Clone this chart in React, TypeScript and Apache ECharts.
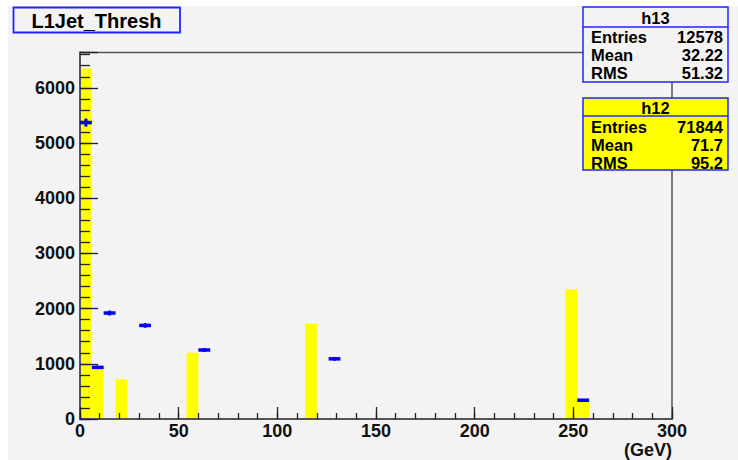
import React, { useEffect, useRef } from 'react';
import * as echarts from 'echarts';

// ---- data ----
const BIN_WIDTH = 6; // GeV
const h12BinStarts = [0, 6, 18, 54, 114, 246, 252];
const h12Values = [6350, 900, 720, 1200, 1720, 2350, 310];
const h13BinStarts = [0, 6, 12, 30, 60, 126, 252];
const h13Values = [5370, 935, 1920, 1695, 1250, 1090, 340];
const h13Errors = [73, 31, 44, 41, 35, 33, 18];

const X_MIN = 0;
const X_MAX = 300;
const Y_MAX = 6640;
const xAxisName = '(GeV)';
const titleText = 'L1Jet_Thresh';
const h13StatLabels = ['Entries', 'Mean', 'RMS'];
const h13StatValues = ['12578', '32.22', '51.32'];
const h12StatLabels = ['Entries', 'Mean', 'RMS'];
const h12StatValues = ['71844', '71.7', '95.2'];

const FONT = '"Liberation Sans", Arial, Helvetica, sans-serif';
const BG = '#f3f3f3';
const BLUE = '#2323ff';
const ZTOP = 100;

function statBox(
  name: string,
  labels: string[],
  values: string[],
  x: number,
  y: number,
  w: number,
  h: number,
  headerH: number,
  rowYs: number[],
  fill: string
) {
  const children: any[] = [
    { type: 'rect', z: ZTOP, shape: { x, y, width: w, height: h }, style: { fill, stroke: BLUE, lineWidth: 1.5 } },
    { type: 'line', z: ZTOP + 1, shape: { x1: x, y1: y + headerH, x2: x + w, y2: y + headerH }, style: { stroke: BLUE, lineWidth: 1.5 } },
    {
      type: 'text',
      z: ZTOP + 1,
      style: { text: name, x: x + w / 2, y: y + headerH / 2 + 0.5, align: 'center', verticalAlign: 'middle', fill: '#000', font: `bold 16.5px ${FONT}` },
    },
  ];
  labels.forEach((lab, i) => {
    children.push({
      type: 'text',
      z: ZTOP + 1,
      style: { text: lab, x: x + 8, y: rowYs[i], align: 'left', verticalAlign: 'middle', fill: '#000', font: `bold 16.5px ${FONT}` },
    });
    children.push({
      type: 'text',
      z: ZTOP + 1,
      style: { text: values[i], x: x + w - 5, y: rowYs[i], align: 'right', verticalAlign: 'middle', fill: '#000', font: `bold 16.5px ${FONT}` },
    });
  });
  return { type: 'group', children };
}

export default function App() {
  const ref = useRef<HTMLDivElement>(null);

  useEffect(() => {
    if (!ref.current) return;
    const chart = echarts.init(ref.current, undefined, { renderer: 'svg' });

    const h12Data = h12BinStarts.map((s, i) => [s, s + BIN_WIDTH, h12Values[i]]);
    const h13Data = h13BinStarts.map((s, i) => [s, s + BIN_WIDTH, h13Values[i], h13Errors[i]]);

    const axisLabelStyle = { color: '#111', fontSize: 18, fontWeight: 'bold' as const, fontFamily: FONT };

    const option: any = {
      animation: false,
      backgroundColor: '#ffffff',
      grid: {
        left: 80,
        right: 66,
        top: 52.5,
        bottom: 41,
        show: true,
        backgroundColor: 'transparent',
        borderColor: '#555',
        borderWidth: 1.5,
        z: 1,
      },
      xAxis: [
        {
          type: 'value',
          position: 'bottom',
          min: X_MIN,
          max: X_MAX,
          interval: 10,
          z: 5,
          axisLine: { show: true, lineStyle: { color: '#555', width: 2 } },
          axisTick: { show: true, inside: true, length: 6, lineStyle: { color: '#222', width: 1.3 } },
          axisLabel: { show: false },
          splitLine: { show: false },
        },
        {
          type: 'value',
          position: 'bottom',
          min: X_MIN,
          max: X_MAX,
          interval: 50,
          z: 5,
          name: xAxisName,
          nameLocation: 'end',
          nameGap: 0,
          nameTextStyle: {
            ...axisLabelStyle,
            align: 'right',
            verticalAlign: 'top',
            padding: [22, 0, 0, 0],
          },
          axisLine: { show: false },
          axisTick: { show: true, inside: true, length: 12, lineStyle: { color: '#222', width: 1.3 } },
          axisLabel: { show: true, margin: 3, ...axisLabelStyle },
          splitLine: { show: false },
        },
      ],
      yAxis: [
        {
          type: 'value',
          position: 'left',
          min: 0,
          max: Y_MAX,
          interval: 200,
          z: 5,
          axisLine: { show: true, lineStyle: { color: '#555', width: 2 } },
          axisTick: { show: true, inside: true, length: 10, lineStyle: { color: '#222', width: 1.3 } },
          axisLabel: { show: false },
          splitLine: { show: false },
        },
        {
          type: 'value',
          position: 'left',
          min: 0,
          max: Y_MAX,
          interval: 1000,
          z: 5,
          axisLine: { show: false },
          axisTick: { show: true, inside: true, length: 18, lineStyle: { color: '#222', width: 1.3 } },
          axisLabel: {
            show: true,
            margin: 5,
            ...axisLabelStyle,
            formatter: (v: number) => (v % 1000 === 0 ? String(v) : ''),
          },
          splitLine: { show: false },
        },
      ],
      series: [
        {
          type: 'custom',
          name: 'h12',
          xAxisIndex: 0,
          yAxisIndex: 0,
          z: 2,
          encode: { x: [0, 1], y: 2 },
          data: h12Data,
          renderItem: (params: any, api: any) => {
            const x0 = api.value(0);
            const x1 = api.value(1);
            const v = api.value(2);
            const pTop = api.coord([x0, v]);
            const pBot = api.coord([x1, 0]);
            return {
              type: 'rect',
              shape: { x: pTop[0], y: pTop[1], width: pBot[0] - pTop[0], height: pBot[1] - pTop[1] },
              style: { fill: '#ffff00' },
            };
          },
        },
        {
          type: 'custom',
          name: 'h13',
          xAxisIndex: 0,
          yAxisIndex: 0,
          z: 6,
          encode: { x: [0, 1], y: 2 },
          data: h13Data,
          renderItem: (params: any, api: any) => {
            const x0 = api.value(0);
            const x1 = api.value(1);
            const v = api.value(2);
            const e = api.value(3);
            const pL = api.coord([x0, v]);
            const pR = api.coord([x1, v]);
            const xc = (x0 + x1) / 2;
            const pUp = api.coord([xc, v + e]);
            const pDn = api.coord([xc, v - e]);
            return {
              type: 'group',
              children: [
                {
                  type: 'line',
                  shape: { x1: pL[0], y1: pL[1], x2: pR[0], y2: pR[1] },
                  style: { stroke: '#0000ff', lineWidth: 3.5 },
                },
                {
                  type: 'line',
                  shape: { x1: pUp[0], y1: pUp[1], x2: pDn[0], y2: pDn[1] },
                  style: { stroke: '#0000ff', lineWidth: 3 },
                },
              ],
            };
          },
        },
      ],
      graphic: [
        { type: 'rect', z: -10, silent: true, shape: { x: 8, y: 6, width: 730, height: 454 }, style: { fill: BG } },
        {
          type: 'group',
          children: [
            { type: 'rect', z: ZTOP, shape: { x: 13.5, y: 7.5, width: 166.5, height: 25 }, style: { fill: BG, stroke: BLUE, lineWidth: 1.8 } },
            {
              type: 'text',
              z: ZTOP + 1,
              style: { text: titleText, x: 96.5, y: 20.5, align: 'center', verticalAlign: 'middle', fill: '#000', font: `bold 20px ${FONT}` },
            },
          ],
        },
        statBox('h13', h13StatLabels, h13StatValues, 583, 7, 145, 75, 20, [36.5, 54.5, 72.5], BG),
        statBox('h12', h12StatLabels, h12StatValues, 583, 98, 145, 72, 18, [127, 145, 163.3], '#ffff00'),
      ],
    };

    chart.setOption(option);
    return () => chart.dispose();
  }, []);

  return (
    <div
      ref={ref}
      style={{ position: 'fixed', left: 0, top: 0, width: 738, height: 460 }}
    />
  );
}
